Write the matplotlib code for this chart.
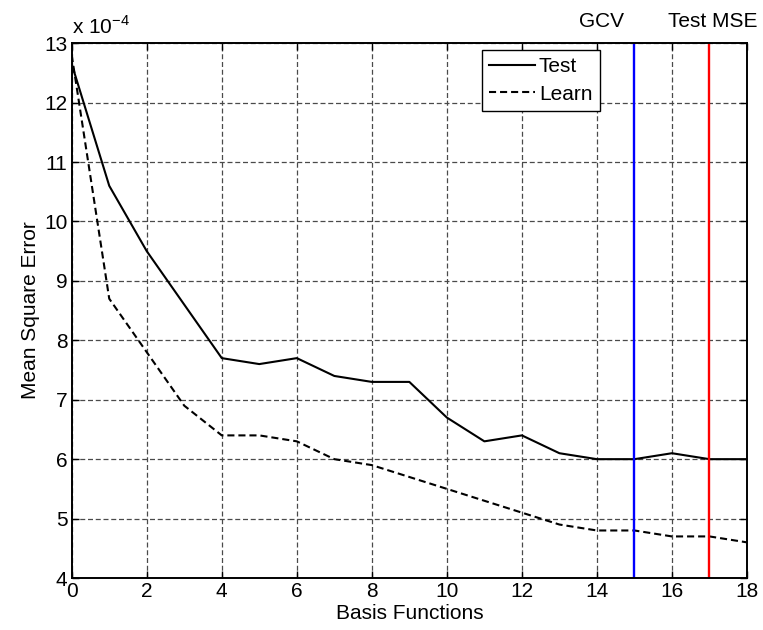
import matplotlib
matplotlib.use("Agg")
import matplotlib.pyplot as plt
import numpy as np

plt.rcParams['font.family'] = ['Liberation Sans', 'DejaVu Sans']

basis = list(range(0, 19))
test_mse = [12.65, 10.6, 9.5, 8.6, 7.7, 7.6, 7.7, 7.4, 7.3, 7.3,
            6.7, 6.3, 6.4, 6.1, 6.0, 6.0, 6.1, 6.0, 6.0]
learn_mse = [12.8, 8.7, 7.8, 6.9, 6.4, 6.4, 6.3, 6.0, 5.9, 5.7,
             5.5, 5.3, 5.1, 4.9, 4.8, 4.8, 4.7, 4.7, 4.6]
gcv_choice = 15
test_choice = 17
x_ticks = list(range(0, 19, 2))
y_ticks = list(range(4, 14))

FS = 15

fig = plt.figure(figsize=(7.63, 6.30), dpi=100)
ax = fig.add_axes([0.094, 0.0825, 0.885, 0.849])

ax.plot(basis, test_mse, color='black', lw=1.5, ls='-', label='Test')
ax.plot(basis, learn_mse, color='black', lw=1.5, ls=(0, (3.4, 1.9)), label='Learn')

ax.axvline(gcv_choice, color='#0000ff', lw=1.7)
ax.axvline(test_choice, color='#ff0000', lw=1.7)

ax.set_xlim(0, 18)
ax.set_ylim(4, 13)
ax.set_xticks(x_ticks)
ax.set_yticks(y_ticks)
ax.tick_params(direction='in', top=True, right=True, labelsize=FS,
               length=5, width=1.0, pad=3)
for s in ax.spines.values():
    s.set_linewidth(1.4)

ax.grid(True, color='#4a4a4a', ls=(0, (4, 2.2)), lw=0.9)
ax.set_axisbelow(True)

ax.set_xlabel('Basis Functions', fontsize=FS, labelpad=2)
ax.set_ylabel('Mean Square Error', fontsize=FS, labelpad=3)

ax.text(0.0, 1.01, r'x 10$^{\mathregular{-4}}$', transform=ax.transAxes,
        fontsize=FS, ha='left', va='bottom')

ax.text(gcv_choice - 0.28, 13.2, 'GCV', fontsize=FS, ha='right', va='bottom')
ax.text(test_choice + 0.1, 13.2, 'Test MSE', fontsize=FS, ha='center', va='bottom')

leg = ax.legend(loc='upper left', bbox_to_anchor=(0.607, 0.987), fontsize=FS,
                frameon=True, fancybox=False, edgecolor='black', framealpha=1,
                handlelength=2.2, handletextpad=0.2, borderpad=0.35,
                labelspacing=0.4, borderaxespad=0.0)
leg.get_frame().set_linewidth(1.0)

fig.savefig('out.png', dpi=100)
